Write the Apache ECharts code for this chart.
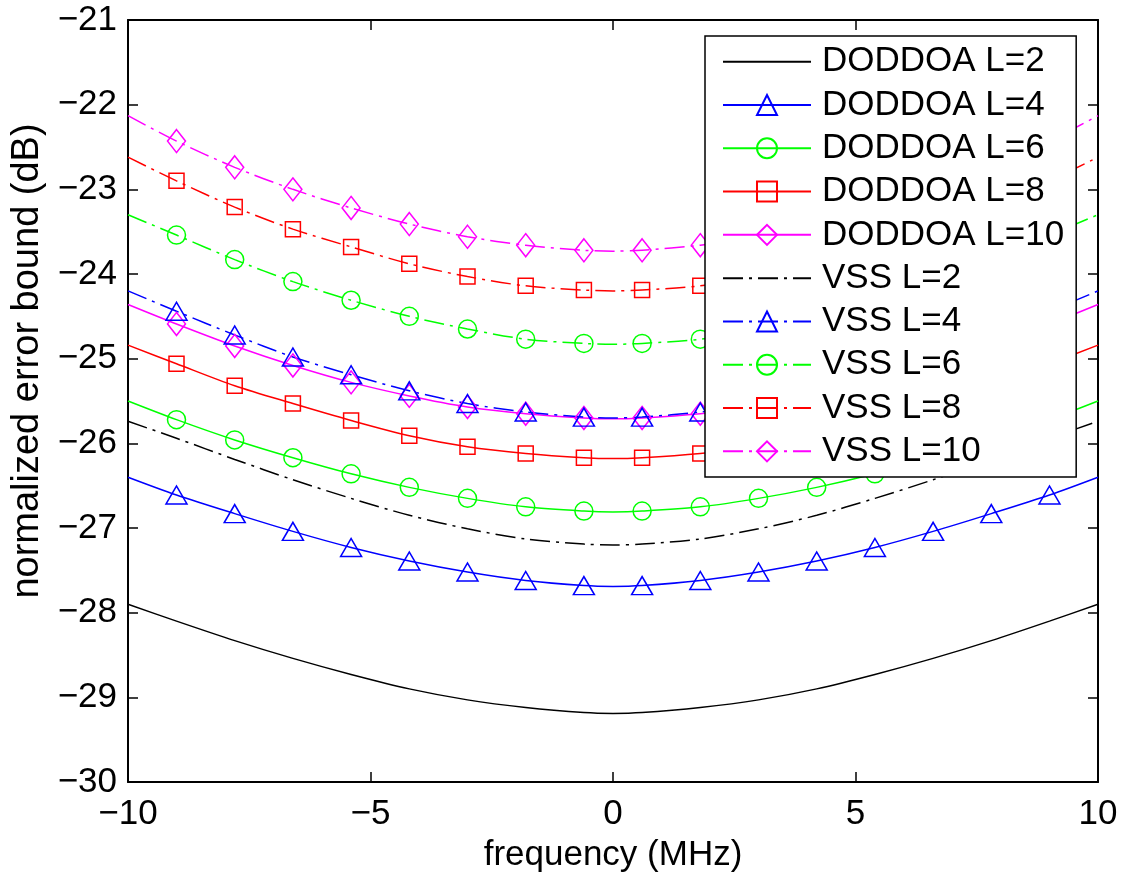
<!DOCTYPE html>
<html>
<head>
<meta charset="utf-8">
<script src="https://cdn.jsdelivr.net/npm/echarts@6/dist/echarts.min.js"></script>
<style>
html,body{margin:0;padding:0;background:#fff;}
#chart{width:1124px;height:878px;}
</style>
</head>
<body>
<div id="chart"></div>
<script>
// frequency points (MHz): curve ends, centre and marker positions
var FREQ = [-10, -9, -7.8, -6.6, -5.4, -4.2, -3, -1.8, -0.6, 0, 0.6, 1.8, 3, 4.2, 5.4, 6.6, 7.8, 9, 10];
// points that carry no marker (curve ends and centre)
var NO_MARKER_FREQ = [-10, 0, 10];

var DODDOA_L2  = [-27.90, -28.10, -28.33, -28.54, -28.73, -28.90, -29.03, -29.12, -29.18, -29.19, -29.18, -29.12, -29.03, -28.90, -28.73, -28.54, -28.33, -28.10, -27.90];
var DODDOA_L4  = [-26.40, -26.61, -26.83, -27.04, -27.23, -27.39, -27.52, -27.62, -27.68, -27.69, -27.68, -27.62, -27.52, -27.39, -27.23, -27.04, -26.83, -26.61, -26.40];
var DODDOA_L6  = [-25.50, -25.72, -25.96, -26.17, -26.36, -26.52, -26.65, -26.75, -26.80, -26.81, -26.80, -26.75, -26.65, -26.52, -26.36, -26.17, -25.96, -25.72, -25.50];
var DODDOA_L8  = [-24.84, -25.06, -25.32, -25.53, -25.73, -25.91, -26.04, -26.12, -26.17, -26.18, -26.17, -26.12, -26.04, -25.91, -25.73, -25.53, -25.32, -25.06, -24.84];
var DODDOA_L10 = [-24.36, -24.59, -24.85, -25.08, -25.28, -25.44, -25.57, -25.65, -25.70, -25.71, -25.70, -25.65, -25.57, -25.44, -25.28, -25.08, -24.85, -24.59, -24.36];
var VSS_L2     = [-25.74, -25.94, -26.19, -26.43, -26.65, -26.85, -27.01, -27.13, -27.19, -27.20, -27.19, -27.13, -27.01, -26.85, -26.65, -26.43, -26.19, -25.94, -25.74];
var VSS_L4     = [-24.20, -24.44, -24.72, -24.98, -25.19, -25.38, -25.53, -25.63, -25.69, -25.70, -25.69, -25.63, -25.53, -25.38, -25.19, -24.98, -24.72, -24.44, -24.20];
var VSS_L6     = [-23.30, -23.54, -23.83, -24.09, -24.31, -24.50, -24.65, -24.77, -24.82, -24.83, -24.82, -24.77, -24.65, -24.50, -24.31, -24.09, -23.83, -23.54, -23.30];
var VSS_L8     = [-22.62, -22.90, -23.21, -23.47, -23.68, -23.88, -24.03, -24.14, -24.19, -24.20, -24.19, -24.14, -24.03, -23.88, -23.68, -23.47, -23.21, -22.90, -22.62];
var VSS_L10    = [-22.13, -22.43, -22.74, -23.00, -23.22, -23.41, -23.56, -23.66, -23.72, -23.73, -23.72, -23.66, -23.56, -23.41, -23.22, -23.00, -22.74, -22.43, -22.13];

var SERIES_NAMES = ['DODDOA L=2', 'DODDOA L=4', 'DODDOA L=6', 'DODDOA L=8', 'DODDOA L=10',
                    'VSS L=2', 'VSS L=4', 'VSS L=6', 'VSS L=8', 'VSS L=10'];
var SERIES_VALUES = [DODDOA_L2, DODDOA_L4, DODDOA_L6, DODDOA_L8, DODDOA_L10,
                     VSS_L2, VSS_L4, VSS_L6, VSS_L8, VSS_L10];

var X_TICKS = [-10, -5, 0, 5, 10];
var Y_TICKS = [-30, -29, -28, -27, -26, -25, -24, -23, -22, -21];

// styles
var COLORS = ['#000000', '#0000ff', '#00ff00', '#ff0000', '#ff00ff'];
var SYMBOLS = ['none', 'triangle', 'circle', 'rect', 'diamond'];
var SYMBOL_SIZES = [0, [21, 18], 18, 15, [18, 23]];
var DASHDOT = [20, 6, 3, 6];
var FONT = '"Liberation Sans", Arial, Helvetica, sans-serif';

function fmt(v) { return String(v).replace('-', '\u2212'); }

var series = SERIES_NAMES.map(function (name, k) {
  var j = k % 5;
  var isVss = k >= 5;
  var vals = SERIES_VALUES[k];
  var data = FREQ.map(function (f, i) {
    var item = { value: [f, vals[i]] };
    if (NO_MARKER_FREQ.indexOf(f) >= 0) item.symbol = 'none';
    return item;
  });
  return {
    name: name,
    type: 'line',
    xAxisIndex: 0,
    yAxisIndex: 0,
    data: data,
    smooth: 0.3,
    symbol: SYMBOLS[j],
    symbolSize: SYMBOL_SIZES[j],
    showSymbol: true,
    lineStyle: { color: COLORS[j], width: 1.5, type: isVss ? DASHDOT : 'solid' },
    itemStyle: {
      color: 'rgba(0,0,0,0)',
      borderColor: j === 0 ? 'rgba(0,0,0,0)' : COLORS[j],
      borderWidth: j === 0 ? 0 : 1.5
    },
    emphasis: { disabled: true },
    silent: true
  };
});

var axisCommon = {
  axisLine: { show: true, onZero: false, lineStyle: { color: '#000', width: 2 } },
  axisTick: { show: true, inside: true, length: 10, lineStyle: { color: '#000', width: 1.5 } },
  splitLine: { show: false }
};

var option = {
  animation: false,
  backgroundColor: '#ffffff',
  grid: { left: 128, right: 26, top: 20, bottom: 94, containLabel: false },
  xAxis: [
    Object.assign({
      type: 'value', position: 'bottom', min: -10, max: 10, interval: 5,
      axisLabel: { show: true, margin: 15, fontSize: 35, color: '#000', fontFamily: FONT, formatter: fmt },
      name: 'frequency (MHz)', nameLocation: 'middle', nameGap: 56,
      nameTextStyle: { fontSize: 35, color: '#000', fontFamily: FONT }
    }, axisCommon),
    Object.assign({
      type: 'value', position: 'top', min: -10, max: 10, interval: 5,
      axisLabel: { show: false }
    }, axisCommon)
  ],
  yAxis: [
    Object.assign({
      type: 'value', position: 'left', min: -30, max: -21, interval: 1,
      axisLabel: { show: true, margin: 11, fontSize: 35, color: '#000', fontFamily: FONT, formatter: fmt },
      name: 'normalized error bound (dB)', nameLocation: 'middle', nameGap: 80, nameRotate: 90,
      nameTextStyle: { fontSize: 38, color: '#000', fontFamily: FONT, padding: [0, 0, 0, 80] }
    }, axisCommon),
    Object.assign({
      type: 'value', position: 'right', min: -30, max: -21, interval: 1,
      axisLabel: { show: false }
    }, axisCommon)
  ],
  legend: {
    show: true,
    orient: 'vertical',
    left: 705,
    top: 36,
    padding: [4, 12, 4, 17],
    itemWidth: 88,
    itemHeight: 25,
    itemGap: 0,
    backgroundColor: '#ffffff',
    borderColor: '#000000',
    borderWidth: 1.5,
    selectedMode: false,
    data: SERIES_NAMES,
    textStyle: { fontSize: 35, color: '#000', fontFamily: FONT, lineHeight: 43.3, padding: [0, 0, 0, 6] }
  },
  series: series
};

var chart = echarts.init(document.getElementById('chart'), null, { renderer: 'canvas' });
chart.setOption(option);
</script>
</body>
</html>
